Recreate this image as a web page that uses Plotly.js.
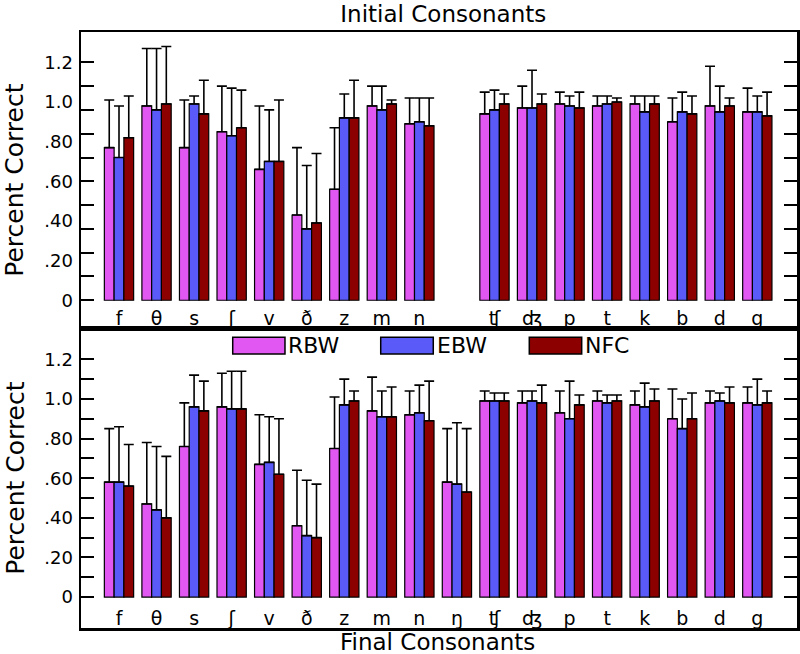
<!DOCTYPE html>
<html>
<head>
<meta charset="utf-8">
<script src="https://cdn.plot.ly/plotly-3.0.1.min.js"></script>
<style>html,body{margin:0;padding:0;background:#fff;}#chart{width:800px;height:654px;}</style>
</head>
<body>
<div id="chart"></div>
<script>
// Categories (consonants)
const consonants = ["f","θ","s","ʃ","v","ð","z","m","n","ŋ","ʧ","ʤ","p","t","k","b","d","g"];
const initialTickLabels = ["f","θ","s","ʃ","v","ð","z","m","n","ʧ","ʤ","p","t","k","b","d","g"];
const seriesNames = ["RBW","EBW","NFC"];

// Initial consonants (top panel) — ŋ not tested
const initRBW    = [0.77,0.98,0.77,0.85,0.66,0.43,0.56,0.98,0.89,null,0.94,0.97,0.99,0.98,0.99,0.90,0.98,0.95];
const initRBWErr = [0.24,0.29,0.24,0.23,0.32,0.34,0.31,0.10,0.13,null,0.11,0.11,0.06,0.05,0.04,0.12,0.20,0.12];
const initEBW    = [0.72,0.96,0.99,0.83,0.70,0.36,0.92,0.96,0.90,null,0.96,0.97,0.98,0.99,0.95,0.95,0.95,0.95];
const initEBWErr = [0.26,0.31,0.04,0.24,0.26,0.32,0.12,0.12,0.12,null,0.10,0.19,0.05,0.04,0.08,0.10,0.13,0.08];
const initNFC    = [0.82,0.99,0.94,0.87,0.70,0.39,0.92,0.99,0.88,null,0.99,0.99,0.97,1.00,0.99,0.94,0.98,0.93];
const initNFCErr = [0.21,0.29,0.17,0.19,0.31,0.35,0.19,0.02,0.14,null,0.05,0.05,0.08,0.02,0.04,0.09,0.04,0.12];

// Final consonants (bottom panel)
const finRBW    = [0.58,0.47,0.76,0.96,0.67,0.36,0.75,0.94,0.92,0.58,0.99,0.98,0.93,0.99,0.97,0.90,0.98,0.98];
const finRBWErr = [0.27,0.31,0.22,0.17,0.25,0.28,0.26,0.17,0.12,0.27,0.05,0.06,0.11,0.05,0.07,0.15,0.06,0.08];
const finEBW    = [0.58,0.44,0.96,0.95,0.68,0.31,0.97,0.91,0.93,0.57,0.99,0.99,0.90,0.98,0.96,0.85,0.99,0.97];
const finEBWErr = [0.28,0.32,0.16,0.19,0.23,0.28,0.13,0.13,0.14,0.31,0.04,0.05,0.19,0.04,0.12,0.15,0.04,0.13];
const finNFC    = [0.56,0.40,0.94,0.95,0.62,0.30,0.99,0.91,0.89,0.53,0.99,0.98,0.97,0.99,0.99,0.90,0.98,0.98];
const finNFCErr = [0.21,0.31,0.15,0.19,0.28,0.27,0.05,0.15,0.20,0.32,0.04,0.09,0.05,0.03,0.06,0.13,0.08,0.06];

// Y-axis labels / ticks
const yLabelVals = [0,0.2,0.4,0.6,0.8,1.0,1.2];
const yLabelText = ["0",".20",".40",".60",".80","1.0","1.2"];
const topTickVals = [0,0.12,0.24,0.36,0.48,0.6,0.72,0.84,0.96,1.08,1.2];
const bottomTickVals = [0,0.1,0.2,0.3,0.4,0.5,0.6,0.7,0.8,0.9,1.0,1.1,1.2];
const bottomTickText = ["0","",".20","",".40","",".60","",".80","","1.0","","1.2"];

const colors = ["#e057f2","#5a5af8","#8c0000"];
const FONT = "DejaVu Sans, sans-serif";

function zeros(a){ return a.map(v => v === null ? null : 0); }
function barTrace(name, vals, errs, color, xa, ya){
  return {
    type: "bar", name: name, x: consonants, y: vals, xaxis: xa, yaxis: ya,
    marker: {color: color, line: {color: "#000", width: 1.2}},
    error_y: {type: "data", symmetric: false, array: errs, arrayminus: zeros(errs),
              color: "#000", thickness: 1.6, width: 5},
    showlegend: false, hoverinfo: "x+y"
  };
}

const data = [
  barTrace(seriesNames[0], initRBW, initRBWErr, colors[0], "x", "y"),
  barTrace(seriesNames[1], initEBW, initEBWErr, colors[1], "x", "y"),
  barTrace(seriesNames[2], initNFC, initNFCErr, colors[2], "x", "y"),
  barTrace(seriesNames[0], finRBW, finRBWErr, colors[0], "x2", "y2"),
  barTrace(seriesNames[1], finEBW, finEBWErr, colors[1], "x2", "y2"),
  barTrace(seriesNames[2], finNFC, finNFCErr, colors[2], "x2", "y2"),
  // empty helper trace so the top-panel label axis (y3) is drawn; it has no visible marks
  {type: "scatter", mode: "markers", x: consonants, y: consonants.map(() => null),
   xaxis: "x", yaxis: "y3", showlegend: false, hoverinfo: "skip"}
];

const xRange = [-1.012, 18.057];
const topRange = [-0.141, 1.353];
const botRange = [-0.156, 1.357];
const DOMAIN_SPLIT = 0.503;

const baseX = {
  type: "category", categoryorder: "array", categoryarray: consonants,
  range: xRange, ticks: "", ticklabelposition: "inside",
  showline: true, mirror: true, linecolor: "#000", linewidth: 2.5,
  showgrid: false, zeroline: false, tickfont: {family: FONT, size: 19, color: "#000"},
  fixedrange: true
};

// Legend geometry (paper coords)
const L = {y0: 0.4597, y1: 0.4878, boxes: [[0.2119,0.2849],[0.4186,0.4920],[0.6261,0.6993]]};
const shapes = L.boxes.map((b, i) => ({
  type: "rect", xref: "paper", yref: "paper", x0: b[0], x1: b[1], y0: L.y0, y1: L.y1,
  fillcolor: colors[i], line: {color: "#000", width: 1.5}
}));
const MAIN_SIZE = 23;
const YTITLE_SIZE = 25;
const annotations = L.boxes.map((b, i) => ({
  xref: "paper", yref: "paper", x: b[1] + 0.002, y: (L.y0 + L.y1) / 2,
  xanchor: "left", yanchor: "middle", showarrow: false, text: seriesNames[i],
  font: {family: FONT, size: 22, color: "#000"}
}));
// bottom caption (x-axis title of the lower panel)
annotations.push({
  xref: "paper", yref: "paper", x: 0.4986, y: -0.0235, xanchor: "center", yanchor: "middle",
  showarrow: false, text: "Final Consonants", font: {family: FONT, size: MAIN_SIZE, color: "#000"}
});

const layout = {
  width: 800, height: 654,
  margin: {l: 81, r: 3, t: 32, b: 26},
  paper_bgcolor: "#fff", plot_bgcolor: "#fff",
  font: {family: FONT, color: "#000"},
  barmode: "group", bargap: 0.22, bargroupgap: 0,
  title: {text: "Initial Consonants", font: {family: FONT, size: MAIN_SIZE, color: "#000"},
          x: 0.506, xref: "paper", xanchor: "center", y: 0.9786, yref: "container", yanchor: "middle"},
  xaxis: Object.assign({}, baseX, {anchor: "y", domain: [0, 1],
          tickmode: "array", tickvals: initialTickLabels, ticktext: initialTickLabels}),
  yaxis: {anchor: "x", domain: [DOMAIN_SPLIT, 1], range: topRange,
          tickmode: "array", tickvals: topTickVals, showticklabels: false,
          ticks: "inside", ticklen: 13, tickwidth: 2, tickcolor: "#000",
          showline: true, mirror: "ticks", linecolor: "#000", linewidth: 2.5,
          showgrid: false, zeroline: false, fixedrange: true},
  yaxis3: {overlaying: "y", anchor: "x", side: "left", range: topRange,
           tickmode: "array", tickvals: yLabelVals, ticktext: yLabelText, ticks: "",
           ticklabelstandoff: 7,
           showline: false, showgrid: false, zeroline: false, fixedrange: true,
           tickfont: {family: FONT, size: 18, color: "#000"},
           title: {text: "Percent Correct", font: {family: FONT, size: YTITLE_SIZE, color: "#000"}, standoff: 13}},
  xaxis2: Object.assign({}, baseX, {anchor: "y2", domain: [0, 1],
          tickmode: "array", tickvals: consonants, ticktext: consonants}),
  yaxis2: {anchor: "x2", domain: [0, DOMAIN_SPLIT], range: botRange,
           tickmode: "array", tickvals: bottomTickVals, ticktext: bottomTickText,
           ticks: "inside", ticklen: 13, tickwidth: 2, tickcolor: "#000",
           ticklabelstandoff: 2,
           showline: true, mirror: "ticks", linecolor: "#000", linewidth: 2.5,
           showgrid: false, zeroline: false, fixedrange: true,
           tickfont: {family: FONT, size: 18, color: "#000"},
           title: {text: "Percent Correct", font: {family: FONT, size: YTITLE_SIZE, color: "#000"}, standoff: 13}},
  shapes: shapes,
  annotations: annotations,
  showlegend: false
};

Plotly.newPlot("chart", data, layout, {displayModeBar: false, staticPlot: true});
</script>
</body>
</html>
